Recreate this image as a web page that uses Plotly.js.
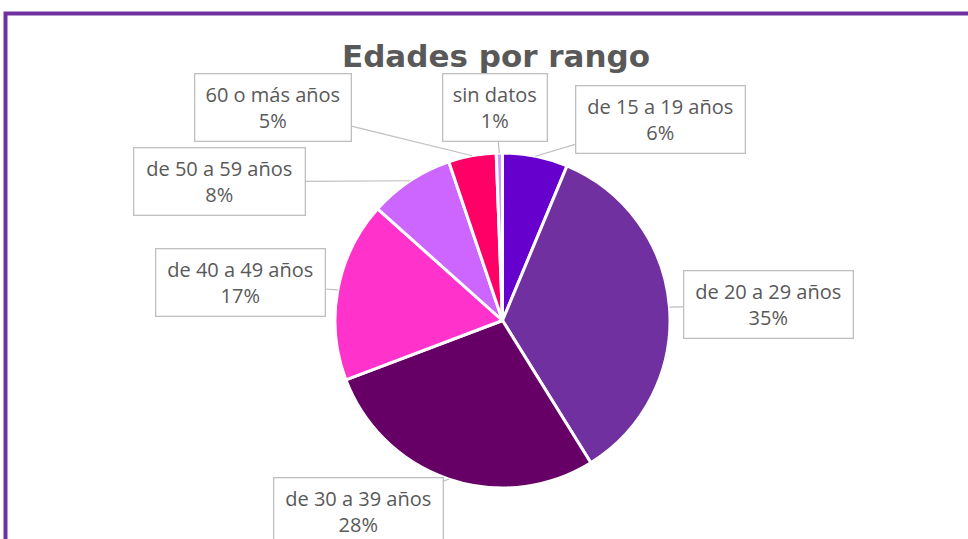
<!DOCTYPE html>
<html>
<head>
<meta charset="utf-8">
<script src="https://cdn.plot.ly/plotly-3.0.1.min.js"></script>
<style>
html,body{margin:0;padding:0;background:#fff;overflow:hidden;}
#chart{width:968px;height:539px;}
</style>
</head>
<body>
<div id="chart"></div>
<script>
// Data
const categories = ["de 15 a 19 años", "de 20 a 29 años", "de 30 a 39 años", "de 40 a 49 años", "de 50 a 59 años", "60 o más años", "sin datos"];
const values = [6.3, 34.9, 28.1, 17.4, 8.2, 4.6, 0.6];
const colors = ["#6600CC", "#7030A0", "#660066", "#FF33CC", "#CC66FF", "#FF0066", "#CC99FF"];

// Layout constants (pixels)
const W = 968, H = 539;
const cx = 502.5, cy = 320.5, R = 167.5;
// callout box centres and widths (pixels)
const boxes = [
  {x: 660, y: 119, w: 170},
  {x: 768, y: 305, w: 170},
  {x: 358, y: 511, w: 170},
  {x: 240, y: 283, w: 170},
  {x: 219, y: 182, w: 172},
  {x: 273, y: 107, w: 157},
  {x: 495, y: 108, w: 105}
];

const total = values.reduce((a, b) => a + b, 0);
const annotations = [];
let cum = 0;
values.forEach((v, i) => {
  const mid = (cum + v / 2) / total * 2 * Math.PI;
  cum += v;
  const hx = cx + R * Math.sin(mid);
  const hy = cy - R * Math.cos(mid);
  const pct = Math.round(v / total * 100);
  annotations.push({
    xref: 'paper', yref: 'paper',
    x: hx / W, y: 1 - hy / H,
    ax: boxes[i].x - hx, ay: boxes[i].y - hy,
    axref: 'pixel', ayref: 'pixel',
    text: categories[i] + '<br>' + pct + '%',
    showarrow: true, arrowhead: 0, arrowwidth: 1.2, arrowcolor: '#BFBFBF',
    standoff: 0,
    bordercolor: '#BFBFBF', borderwidth: 1.3, borderpad: 3,
    bgcolor: '#FFFFFF',
    width: boxes[i].w - 8, height: 60,
    align: 'center', valign: 'middle',
    font: {family: 'Open Sans, sans-serif', size: 20, color: '#595959'}
  });
});

const data = [{
  type: 'pie',
  labels: categories,
  values: values,
  sort: false,
  direction: 'clockwise',
  rotation: 0,
  textinfo: 'none',
  hoverinfo: 'label+percent',
  marker: {colors: colors, line: {color: '#FFFFFF', width: 3}},
  domain: {x: [(cx - R) / W, (cx + R) / W], y: [1 - (cy + R) / H, 1 - (cy - R) / H]},
  showlegend: false
}];

const layout = {
  width: W, height: H,
  margin: {l: 0, r: 0, t: 0, b: 0},
  paper_bgcolor: '#FFFFFF',
  showlegend: false,
  title: {
    text: '<b>Edades por rango</b>',
    x: 496 / W, xanchor: 'center',
    y: 1 - 56 / H, yanchor: 'middle',
    font: {family: 'DejaVu Sans, Verdana, sans-serif', size: 31, color: '#595959'}
  },
  annotations: annotations,
  shapes: [{
    type: 'rect', xref: 'paper', yref: 'paper',
    x0: 5.5 / W, x1: 1.05, y0: -0.05, y1: 1 - 13.5 / H,
    line: {color: '#7030A0', width: 4},
    fillcolor: 'rgba(0,0,0,0)', layer: 'below'
  }]
};

Plotly.newPlot('chart', data, layout, {displayModeBar: false, staticPlot: true});
</script>
</body>
</html>
